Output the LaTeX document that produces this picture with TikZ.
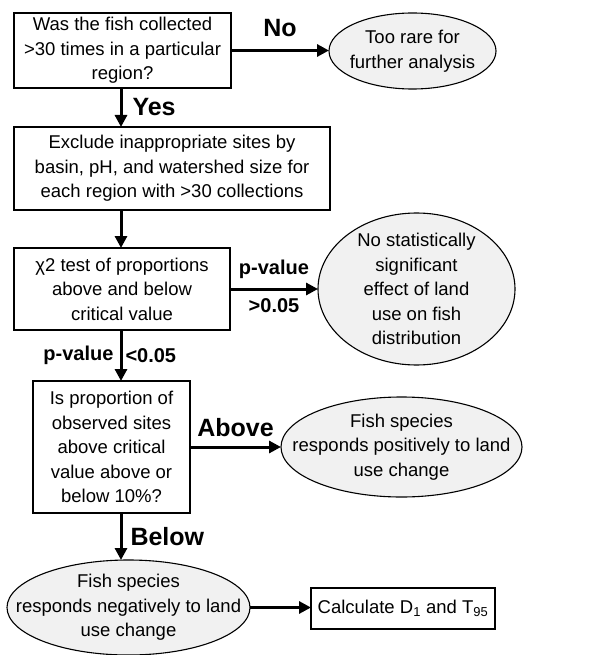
\documentclass[tikz,border=0pt]{standalone}
\usepackage{fontspec}
\setmainfont{Liberation Sans}
\usetikzlibrary{shapes.geometric,arrows.meta}
\begin{document}
\begin{tikzpicture}[x=1pt,y=-1pt,
box/.style={draw,line width=1.3pt,inner sep=0pt,outer sep=0pt,align=center,font=\fontsize{18.5}{24.5}\selectfont},
oval/.style={draw,ellipse,fill=gray!11,line width=1.1pt,inner sep=0pt,outer sep=0pt},
ovaltext/.style={align=center,inner sep=0pt,font=\fontsize{18.5}{24.5}\selectfont},
arr/.style={line width=3pt,-{Triangle[length=12pt,width=12pt]}},
lab/.style={font=\bfseries\fontsize{25}{28}\selectfont,inner sep=0pt},
plab/.style={font=\bfseries\fontsize{20}{22}\selectfont,inner sep=0pt}]
\useasboundingbox (0,0) rectangle (605,655);
\coordinate (spine) at (121,0);
% boxes
\node[box,minimum width=217pt,minimum height=75pt] (collected) at (122.5,50.5)
{Was the fish collected\\>30 times in a particular\\region?};
\node[box,minimum width=316pt,minimum height=83pt] (exclude) at (172,168.5)
{Exclude inappropriate sites by\\basin, pH, and watershed size for\\each region with >30 collections};
\node[box,minimum width=216pt,minimum height=82pt] (chitest) at (122,289)
{χ2 test of proportions\\above and below\\critical value};
\node[box,minimum width=157pt,minimum height=132pt] (proportion) at (111.5,447)
{Is proportion of\\observed sites\\above critical\\value above or\\below 10\%?};
\node[box,minimum width=184pt,minimum height=41pt] (calculate) at (403,608.5)
{Calculate D\textsubscript{1} and T\textsubscript{95}};
% ovals
\node[oval,minimum width=167pt,minimum height=76pt,
label={[ovaltext]center:{Too rare for\\further analysis}}] (rare) at (412.5,51) {};
\node[oval,minimum width=197pt,minimum height=152pt,
label={[ovaltext]center:{No statistically\\significant\\effect of land\\use on fish\\distribution}}] (nosig) at (416.5,289) {};
\node[oval,minimum width=241pt,minimum height=100pt,
label={[ovaltext]center:{Fish species\\responds positively to land\\use change}}] (positive) at (401.5,447) {};
\node[oval,minimum width=243pt,minimum height=95pt,
label={[ovaltext]center:{Fish species\\responds negatively to land\\use change}}] (negative) at (128.5,607.5) {};
% arrows
\draw[arr] (collected.east) -- (collected.east -| rare.west) node[lab,midway,above=12pt] {No};
\draw[arr] (spine |- collected.south) -- (spine |- exclude.north) node[lab,midway,right=10pt] {Yes};
\draw[arr] (spine |- exclude.south) -- (spine |- chitest.north);
\draw[arr] (chitest.east) -- (nosig.west) node[plab,midway,above=9pt] {p-value}
node[plab,midway,below=8pt] {>0.05};
\draw[arr] (spine |- chitest.south) -- (spine |- proportion.north) node[plab,midway,left=6pt] {p-value}
node[plab,midway,right=3pt] {<0.05};
\draw[arr] (proportion.east) -- (positive.west) node[lab,midway,above=9pt] {Above};
\draw[arr] (spine |- proportion.south) -- (spine |- negative.north) node[lab,midway,right=8pt] {Below};
\draw[arr] (negative.east) -- (negative.east -| calculate.west);
\end{tikzpicture}
\end{document}
